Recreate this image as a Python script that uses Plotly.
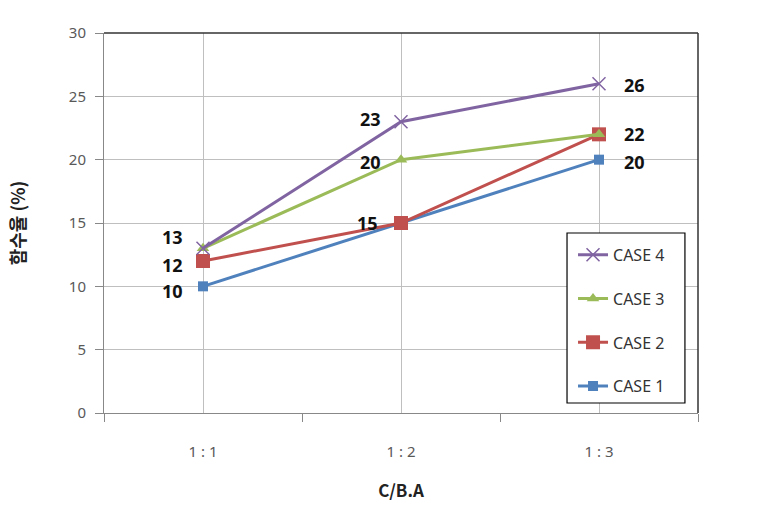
import plotly.graph_objects as go

categories = ["1 : 1", "1 : 2", "1 : 3"]
series_names = ["CASE 1", "CASE 2", "CASE 3", "CASE 4"]
case1 = [10, 15, 20]
case2 = [12, 15, 22]
case3 = [13, 20, 22]
case4 = [13, 23, 26]
y_ticks = [0, 5, 10, 15, 20, 25, 30]

values = [case1, case2, case3, case4]
colors = ["#4F81BD", "#C0504D", "#9BBB59", "#8064A2"]
symbols = ["square", "square", "triangle-up", "x-thin-open"]
msizes = [10, 14, 11, 13]

# which points carry a value label, and (xshift, yshift) in px
label_style = [
    [(-31, -5), (-34, 0), (35, -2)],
    [(-31, -4), None, (35, 0)],
    [None, (-31, -2), None],
    [(-31, 11), (-31, 3), (35, -1)],
]

xpos = [i + 1 for i in range(len(categories))]

fig = go.Figure()
for i, (name, vals) in enumerate(zip(series_names, values)):
    marker = dict(symbol=symbols[i], size=msizes[i], color=colors[i])
    if symbols[i] == "x-thin-open":
        marker["line"] = dict(width=1.5, color="#9C8CC0")
    fig.add_trace(go.Scatter(
        x=xpos, y=vals, name=name, mode="lines+markers",
        legendgroup=name, legendrank=100 - i,
        line=dict(color=colors[i], width=3),
        marker=marker,
    ))
    for j, v in enumerate(vals):
        st = label_style[i][j]
        if st is None:
            continue
        fig.add_annotation(
            x=xpos[j], y=v, text="<b>" + str(v) + "</b>", showarrow=False,
            xshift=st[0], yshift=st[1],
            font=dict(family="Noto Sans, DejaVu Sans", size=18, color="#111111"),
        )

fig.update_layout(
    width=757, height=519,
    margin=dict(l=104, r=59, t=33, b=106),
    paper_bgcolor="white", plot_bgcolor="white",
    font=dict(family="Noto Sans CJK KR, Noto Sans", color="#595959"),
    legend=dict(
        x=0.7896, y=0.461, xanchor="left", yanchor="top",
        borderwidth=0, bgcolor="rgba(0,0,0,0)",
        traceorder="grouped", tracegroupgap=20,
        font=dict(family="Noto Sans", size=16, color="#333333"),
    ),
    showlegend=True,
)

fig.update_xaxes(
    range=[0.5, len(categories) + 0.5],
    tickmode="array", tickvals=xpos, ticktext=categories,
    ticks="", showgrid=True, gridcolor="#BFBFBF", gridwidth=1,
    showline=True, linecolor="#888888", linewidth=1,
    zeroline=False,
    minor=dict(tickmode="array", tickvals=[x - 0.5 for x in xpos] + [xpos[-1] + 0.5],
               ticks="outside", ticklen=8, tickcolor="#888888", showgrid=False),
    ticklabelstandoff=25,
    tickfont=dict(family="Noto Sans", size=15, color="#595959"),
    title=dict(text="<b>C/B.A</b>", standoff=25,
               font=dict(family="Noto Sans CJK KR, Noto Sans", size=17, color="#222222")),
)
fig.update_yaxes(
    range=[0, 30], tickvals=y_ticks,
    ticks="outside", ticklen=8, tickcolor="#888888",
    showgrid=True, gridcolor="#BFBFBF", gridwidth=1,
    showline=True, linecolor="#888888", linewidth=1,
    zeroline=False,
    ticklabelstandoff=6,
    tickfont=dict(family="Noto Sans", size=15, color="#595959"),
    title=dict(text="<b>함수율 (%)</b>", standoff=38,
               font=dict(family="Noto Sans CJK KR", size=18, color="#222222")),
)

# dark top and right border of plot area
fig.add_shape(type="line", xref="x domain", yref="y domain", x0=0, x1=1, y0=1, y1=1,
              line=dict(color="#333333", width=1.5))
fig.add_shape(type="line", xref="x domain", yref="y domain", x0=1, x1=1, y0=0, y1=1,
              line=dict(color="#333333", width=1.5))
# legend frame
fig.add_shape(type="rect", xref="paper", yref="paper",
              x0=0.7795, x1=0.978, y0=0.0263, y1=0.4737,
              line=dict(color="#000000", width=1.2), fillcolor="white", layer="above")

fig.write_html("out.html")
